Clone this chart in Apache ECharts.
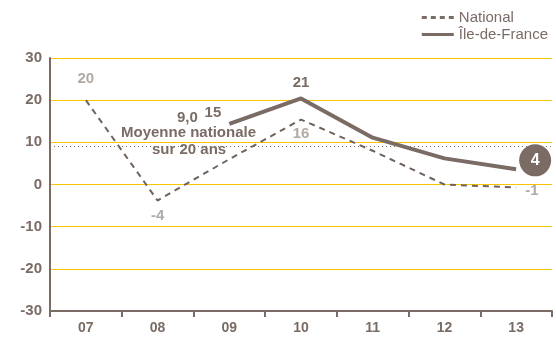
<!DOCTYPE html>
<html><head><meta charset="utf-8">
<script src="https://cdn.jsdelivr.net/npm/echarts@6/dist/echarts.min.js"></script>
<style>html,body{margin:0;padding:0;background:#fff}#c{width:556px;height:338px}</style>
</head><body><div id="c"></div>
<script>
const categories = ['07','08','09','10','11','12','13'];
const national = [20, -3.8, 6, 15.4, 8, 0, -0.7];
const nationalLabels = ['20','-4','','16','','','-1'];
const idf = [null, null, 14.4, 20.4, 11.1, 6.2, 3.6];
const idfLabels = ['','','15','21','','','4'];
const yTicks = [-30,-20,-10,0,10,20,30];
const average = 9.0;

const brown = '#7a6c65';
const grey = '#b1a9a4';
const yellow = '#f7c600';
const font = 'Liberation Sans, Arial, sans-serif';

const chart = echarts.init(document.getElementById('c'), null, {renderer:'canvas'});

const lbl = (t, color, extra) => Object.assign({show:true, formatter:t, color:color, fontSize:15, fontWeight:'bold', fontFamily:font}, extra);

const natData = national.map((v,i)=>{
  const d = {value:v};
  const t = nationalLabels[i];
  if (!t) return d;
  if (i===0) d.label = lbl(t, grey, {position:'top', offset:[0,-8]});
  if (i===1) d.label = lbl(t, grey, {position:'bottom', offset:[0,2]});
  if (i===3) d.label = lbl(t, grey, {position:'bottom', offset:[0,1]});
  if (i===6) d.label = lbl(t, grey, {position:'right', offset:[3,3]});
  return d;
});
const idfData = idf.map((v,i)=>{
  const d = {value:v};
  const t = idfLabels[i];
  if (!t) return d;
  if (i===2) d.label = lbl(t, brown, {position:'left', offset:[-2,-11]});
  else if (i===3) d.label = lbl(t, brown, {position:'top', offset:[0,-2]});
  else if (i===6) d.label = lbl(t, '#fff', {position:'inside', offset:[19,-9], fontSize:16,
      backgroundColor:brown, width:32, height:32, lineHeight:32, borderRadius:16, align:'center', verticalAlign:'middle', padding:0});
  return d;
});

chart.setOption({
  animation:false,
  backgroundColor:'#fff',
  grid:{left:50, right:4, top:58, bottom:27},
  legend:{
    orient:'vertical', right:3, top:5, itemWidth:32, itemHeight:3, itemGap:2,
    textStyle:{color:brown, fontSize:15, fontFamily:font},
    data:[{name:'National', icon:'path://M0,0 L5,0 L5,3 L0,3 Z M9,0 L14,0 L14,3 L9,3 Z M18,0 L23,0 L23,3 L18,3 Z M27,0 L32,0 L32,3 L27,3 Z', itemStyle:{color:brown}},
          {name:'Île-de-France', icon:'rect', itemHeight:4, itemStyle:{color:brown}}]
  },
  xAxis:{
    type:'category', data:categories, boundaryGap:true,
    axisLine:{onZero:false, lineStyle:{color:brown, width:2}},
    axisTick:{show:true, length:6, lineStyle:{color:brown, width:2}},
    axisLabel:{color:brown, fontSize:14, fontWeight:'bold', fontFamily:font, margin:10},
    splitLine:{show:false}
  },
  yAxis:{
    type:'value', min:-30, max:30, interval:10,
    axisLine:{show:true, lineStyle:{color:brown, width:2}},
    axisTick:{show:false},
    axisLabel:{color:brown, fontSize:15, fontWeight:'bold', fontFamily:font, margin:8,
      formatter:v=>yTicks.includes(v)?String(v):''},
    splitLine:{show:true, lineStyle:{color:yellow, width:1}}
  },
  series:[
    {name:'National', type:'line', data:natData, symbol:'circle', symbolSize:2, showSymbol:true, z:3,
     itemStyle:{color:'rgba(0,0,0,0)'},
     lineStyle:{color:'#6f625b', width:2, type:[6,5]},
     markLine:{silent:true, symbol:'none', label:{show:false},
       lineStyle:{color:'#7d716b', type:[1,3], width:1},
       data:[{yAxis:average}]}
    },
    {name:'Île-de-France', type:'line', data:idfData, symbol:'circle', symbolSize:2, showSymbol:true, z:4, connectNulls:false,
     itemStyle:{color:'rgba(0,0,0,0)'},
     lineStyle:{color:brown, width:4}}
  ],
  graphic:[
    {type:'text', left:177, top:110, style:{text:'9,0', fill:brown, font:'bold 15px '+font}},
    {type:'text', left:121, top:125, style:{text:'Moyenne nationale', fill:brown, font:'bold 15px '+font}},
    {type:'text', left:152, top:142, style:{text:'sur 20 ans', fill:brown, font:'bold 15px '+font}}
  ]
});
</script></body></html>
